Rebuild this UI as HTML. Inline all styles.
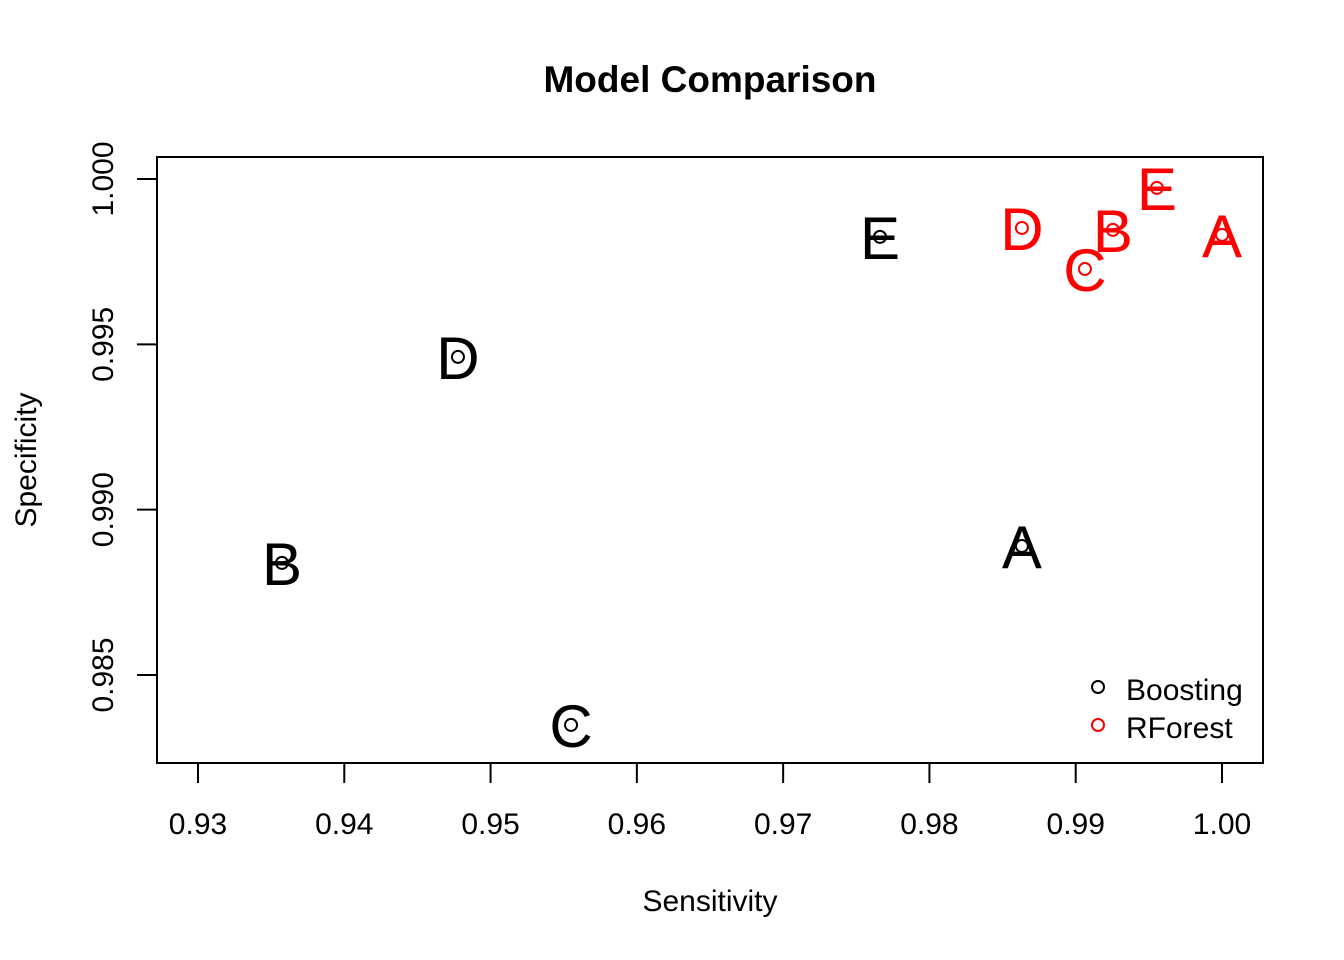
<!DOCTYPE html>
<html><head><meta charset="utf-8"><style>
html,body{margin:0;padding:0;background:#fff;}
svg{display:block;font-family:"Liberation Sans",Arial,sans-serif;}
</style></head><body>
<svg id="chart" width="1344" height="960" viewBox="0 0 1344 960">
<text x="710" y="92" text-anchor="middle" font-size="37" font-weight="bold">Model Comparison</text>
<rect x="157" y="157" width="1106" height="606" fill="none" stroke="#000" stroke-width="2"/>
<g id="xaxis"></g>
<g id="yaxis"></g>
<text x="710" y="911" text-anchor="middle" font-size="30">Sensitivity</text>
<text transform="translate(36,460) rotate(-90)" text-anchor="middle" font-size="30">Specificity</text>
<g id="marks"></g>
<g>
<circle cx="1098" cy="687" r="6" fill="none" stroke="#000" stroke-width="2"/>
<text x="1126" y="700" font-size="30">Boosting</text>
<circle cx="1098" cy="725" r="6" fill="none" stroke="#f00" stroke-width="2"/>
<text x="1126" y="738" font-size="30">RForest</text>
</g>
</svg>
<script>
const labels = ["A","B","C","D","E"];
const boostSens = [0.98632,0.93574,0.95550,0.94777,0.97662];
const boostSpec = [0.98890,0.98839,0.98349,0.99462,0.99825];
const rfSens = [1.0000,0.99254,0.99063,0.98632,0.99555];
const rfSpec = [0.99831,0.99846,0.99728,0.99852,0.99973];
const xTicks = ["0.93","0.94","0.95","0.96","0.97","0.98","0.99","1.00"];
const yTicks = ["0.985","0.990","0.995","1.000"];

const NS="http://www.w3.org/2000/svg";
const sx = v => 198 + (v-0.93)/0.07*1024;
const sy = v => 179 + (1.0-v)/0.015*496;
function mk(tag, attrs, parent){const e=document.createElementNS(NS,tag);for(const k in attrs)e.setAttribute(k,attrs[k]);parent.appendChild(e);return e;}
const xa=document.getElementById('xaxis'), ya=document.getElementById('yaxis'), marks=document.getElementById('marks');
xTicks.forEach(t=>{
  const x=sx(parseFloat(t));
  const l=mk('line',{x1:x,x2:x,y1:763,y2:783,stroke:'#000','stroke-width':2},xa);
  
  
  const tx=mk('text',{x:x,y:834,'text-anchor':'middle','font-size':30},xa);
  tx.textContent=t;
  
  
});
yTicks.forEach(t=>{
  const y=sy(parseFloat(t));
  const l=mk('line',{x1:137,x2:157,y1:y,y2:y,stroke:'#000','stroke-width':2},ya);
  
  
  const tx=mk('text',{transform:`translate(113,${y}) rotate(-90)`,'text-anchor':'middle','font-size':30},ya);
  tx.textContent=t;
  
  
});
function series(sens,spec,color,name){
  labels.forEach((lab,i)=>{
    const x=sx(sens[i]), y=sy(spec[i]);
    const c=mk('circle',{cx:x,cy:y,r:6,fill:'none',stroke:color,'stroke-width':2},marks);
    
    
    const t=mk('text',{x:x,y:y+22,'text-anchor':'middle','font-size':60,fill:color},marks);
    t.textContent=lab;
    
    
  });
}
series(boostSens,boostSpec,'#000','boosting');
series(rfSens,rfSpec,'#f00','rforest');
</script>
</body></html>
